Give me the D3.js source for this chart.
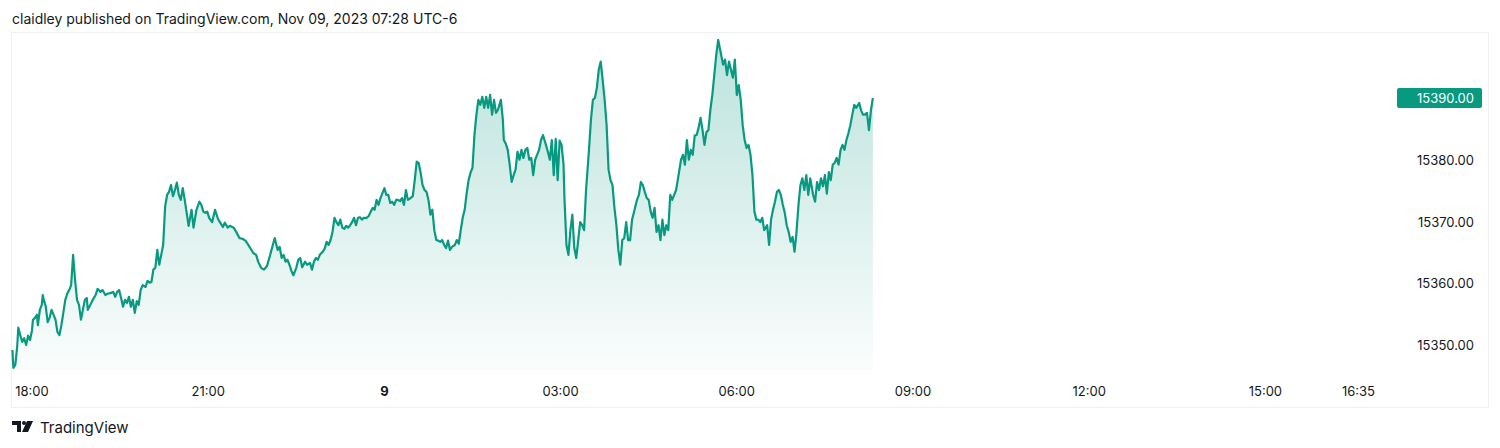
<!DOCTYPE html>
<html><head><meta charset="utf-8">
<script src="https://cdn.jsdelivr.net/npm/d3@7/dist/d3.min.js"></script>
<style>body{margin:0;background:#fff}svg{display:block}</style>
</head><body>
<svg id="c" width="1500" height="448"></svg>
<script>
// minutes from 18:00 (Nov 8) and prices
const minutes = [-20,-19,-17,-15,-14,-12,-10,-8,-6,-4,-2,0,1,3,5,6,8,10,11,12,14,16,18,20,24,26,28,30,32,34,36,38,40,42,44,46,48,50,52,54,56,57,59,62,65,67,70,72,75,77,80,83,85,87,89,91,93,95,97,99,101,103,105,107,109,111,113,116,118,120,122,124,126,128,130,132,134,136,138,140,142,144,146,148,150,152,154,156,160,163,165,168,171,173,175,177,179,181,184,187,190,192,195,197,200,202,206,209,212,215,218,221,223,226,229,231,234,237,240,243,246,248,251,253,255,257,259,261,263,265,267,270,272,274,
276,279,281,284,286,288,290,292,294,297,299,301,303,305,307,309,311,313,315,317,319,321,323,325,327,329,331,333,335,337,339,342,344,346,348,350,352,354,356,358,360,362,364,366,368,370,372,374,376,378,380,382,384,386,389,391,393,395,397,399,401,403,405,407,409,411,413,415,417,419,421,423,425,427,429,432,434,436,438,440,442,444,446,448,450,452,454,456,458,460,462,464,466,468,470,472,474,476,479,481,482,484,486,488,490,492,494,496,498,500,502,504,506,508,510,512,514,516,518,520,522,525,527,529,531,533,535,537,539,541,543,544,546,548,550,552,554,556,558,560,562,564,566,569,571,573,575,577,579,581,583,585,587,589,591,593,595,597,599,601,603,605,607,609,611,613,616,618,620,622,624,626,628,630,632,634,636,638,640,642,644,646,648,650,652,654,656,658,661,663,665,667,669,671,673,675,677,679,681,683,685,687,689,691,693,695,697,699,701,703,706,708,710,712,714,716,718,720,722,724,726,728,730,732,734,736,738,740,742,744,746,748,751,753,755,757,759,761,763,765,767,769,771,773,775,777,779,781,783,785,787,789,791,793,795,798,800,802,804,806,808,810,812,814,816,818,820,822,824,826,828,830,832,834,836,838,840,842,845,847,849,851,853,855,857,859];
const prices = [15349.2,15346.3,15346.8,15350.0,15352.8,15351.6,15350.5,15351.1,15350.0,15351.5,15350.8,15352.4,15354.1,15354.4,15354.9,15353.2,15355.7,15356.5,15358.1,15357.3,15356.3,15353.7,15354.4,15355.7,15354.1,15352.1,15351.6,15353.2,15355.2,15357.3,15358.3,15358.9,15359.7,15364.6,15360.5,15357.3,15356.5,15354.1,15355.7,15357.3,15357.6,15355.7,15356.3,15357.3,15358.1,15359.1,15358.6,15358.9,15358.1,15358.3,15358.4,15358.6,15357.8,15358.6,15358.9,15357.6,15356.2,15357.3,15356.8,15357.8,15356.2,15357.3,15355.2,15357.1,15356.5,15358.9,15359.7,15359.4,15360.4,15360.1,15360.2,15362.2,15362.5,15365.4,15363.0,15364.6,15366.2,15372.4,15374.3,15374.8,15375.9,15374.1,15375.1,15376.3,15374.3,15373.5,15375.4,15373.5,15369.3,15371.9,15369.0,15371.9,15373.2,15372.7,15371.6,15371.4,15371.6,15370.6,15369.9,15371.9,15370.4,15369.9,15369.1,15369.8,15369.0,15369.3,15369.0,15368.2,15367.3,15367.2,15366.9,15366.2,15365.7,15364.9,15364.6,15363.5,15362.5,15362.2,15362.8,15364.4,15366.2,15367.3,15365.4,15365.9,15364.1,15364.6,15363.5,15363.8,15363.0,15362.0,15361.3,15362.5,15363.8,15364.1,
15362.6,15363.5,15363.0,15363.3,15362.2,15363.5,15364.1,15363.8,15364.6,15365.1,15365.6,15366.7,15366.2,15367.0,15368.3,15370.6,15369.9,15369.4,15370.3,15369.0,15368.8,15369.3,15369.0,15369.4,15369.9,15370.6,15369.4,15370.6,15370.7,15370.3,15370.6,15370.6,15370.9,15371.6,15372.2,15371.9,15373.5,15372.7,15373.8,15374.6,15375.4,15374.3,15374.3,15373.0,15373.2,15372.7,15373.5,15373.5,15373.3,15373.8,15372.7,15375.1,15373.5,15373.7,15374.1,15376.7,15379.7,15379.5,15377.9,15375.9,15375.1,15374.8,15373.5,15371.1,15371.9,15368.6,15367.0,15366.9,15366.7,15367.0,15366.2,15365.7,15366.9,15365.4,15365.9,15366.2,15367.0,15366.4,15368.6,15370.6,15371.9,15374.5,15376.7,15377.9,15378.7,15384.0,15387.3,15389.7,15388.9,15390.2,15388.4,15390.2,15388.4,15390.5,15387.3,15389.7,15387.6,15388.1,15389.7,15386.5,15383.2,15382.6,15381.6,15379.2,15376.4,15377.5,15378.4,15381.3,15380.0,15381.6,15380.3,15381.6,15381.9,15380.0,15380.3,15377.5,15380.0,15380.8,15381.6,15383.2,15384.0,15382.4,15381.3,15380.0,15383.2,15377.5,15383.4,15376.7,15383.1,15382.4,15379.2,15373.5,15366.2,15364.6,15368.6,15371.1,15365.7,15364.1,15367.0,15369.9,15369.4,15368.6,15375.1,15381.6,15386.5,15389.7,15390.0,15391.6,15394.6,15395.9,15392.9,15389.7,15385.6,15378.4,15376.7,15375.9,15372.2,15369.4,15365.4,15363.0,15367.0,15367.3,15369.9,15367.0,15367.0,15370.3,15372.2,15373.5,15374.3,15376.4,15375.9,15374.8,15373.8,15373.5,15371.6,15370.6,15372.2,15368.3,15369.4,15367.0,15370.3,15367.8,15369.4,15368.6,15374.3,15373.5,15374.3,15375.1,15378.0,15380.0,15380.8,15379.2,15383.2,15380.0,15381.6,15380.8,15383.9,15384.0,15385.2,15386.8,15384.8,15382.4,15384.5,15384.8,15388.1,15390.5,15393.7,15397.0,15399.4,15397.8,15395.4,15396.2,15393.7,15395.9,15394.6,15393.3,15396.2,15390.5,15392.1,15389.7,15385.6,15383.2,15381.9,15382.4,15380.8,15377.5,15371.6,15370.3,15370.3,15369.9,15370.6,15368.6,15369.4,15366.2,15370.3,15371.9,15373.2,15374.8,15375.1,15374.3,15372.7,15371.4,15369.4,15368.3,15366.7,15367.5,15365.1,15368.3,15372.7,15375.9,15377.0,15375.1,15377.5,15374.3,15377.0,15374.3,15373.2,15376.4,15375.1,15377.0,15375.7,15377.5,15374.5,15378.0,15376.7,15379.2,15379.5,15380.3,15379.2,15381.6,15382.4,15381.6,15383.2,15384.3,15385.6,15387.3,15388.9,15388.4,15389.2,15388.0,15387.3,15387.3,15387.6,15384.8,15388.0,15390.0];
const priceTicks = [15350,15360,15370,15380];
const timeTicks = [["18:00",0,false],["21:00",180,false],["9",360,true],["03:00",540,false],["06:00",720,false],["09:00",900,false],["12:00",1080,false],["15:00",1260,false],["16:35",1355,false]];
const lastPrice = 15390.00;
const header = "claidley published on TradingView.com, Nov 09, 2023 07:28 UTC-6";

const svg = d3.select("#c");
const font = "-apple-system, 'Inter', 'Noto Sans', sans-serif";
const base = new Date(2023,10,8,18,0);
const toDate = m => new Date(base.getTime()+m*60000);
const x = d3.scaleTime().domain([toDate(0), toDate(900)]).range([32, 913]);
const y = d3.scaleLinear().domain([15350,15390]).range([345,98]);
const data = minutes.map((m,i)=>({t:toDate(m), p:prices[i]}));
const bottom = 370;

const defs = svg.append("defs");
const g = defs.append("linearGradient").attr("id","fill").attr("x1",0).attr("x2",0).attr("y1",0).attr("y2",1)
  .attr("gradientUnits","userSpaceOnUse").attr("y1",35).attr("y2",bottom);
g.append("stop").attr("offset",0).attr("stop-color","#089981").attr("stop-opacity",0.28);
g.append("stop").attr("offset",1).attr("stop-color","#089981").attr("stop-opacity",0.02);

svg.append("text").attr("x",12).attr("y",24).attr("font-family",font).attr("font-size",14).attr("fill","#131722").text(header);
svg.append("rect").attr("x",11.5).attr("y",32.5).attr("width",1477).attr("height",375).attr("fill","none").attr("stroke","#eef1f4");

svg.append("path").datum(data).attr("fill","url(#fill)")
  .attr("d",d3.area().x(d=>x(d.t)).y0(bottom).y1(d=>y(d.p)));
svg.append("path").datum(data).attr("fill","none").attr("stroke","#089981").attr("stroke-width",2.2).attr("stroke-linejoin","round")
  .attr("d",d3.line().x(d=>x(d.t)).y(d=>y(d.p)));

svg.selectAll(".pt").data(priceTicks).enter().append("text").attr("x",1474).attr("y",d=>y(d)+5).attr("text-anchor","end")
  .attr("font-family",font).attr("font-size",13).attr("fill","#131722").text(d=>d3.format(".2f")(d));
svg.append("rect").attr("x",1397).attr("y",y(lastPrice)-10).attr("width",85).attr("height",20).attr("rx",2).attr("fill","#089981");
svg.append("text").attr("x",1474).attr("y",y(lastPrice)+5).attr("text-anchor","end").attr("font-family",font).attr("font-size",13).attr("fill","#fff").text(d3.format(".2f")(lastPrice));

svg.selectAll(".tt").data(timeTicks).enter().append("text").attr("x",d=>x(toDate(d[1]))).attr("y",396).attr("text-anchor","middle")
  .attr("font-family",font).attr("font-size",13).attr("fill","#131722").attr("font-weight",d=>d[2]?700:400).text(d=>d[0]);

// logo
const lg = svg.append("g").attr("transform","translate(12,421)").attr("fill","#131722");
lg.append("path").attr("d","M0 0 H9 V11 H5 V4 H0 Z");
lg.append("circle").attr("cx",12).attr("cy",2).attr("r",2);
lg.append("path").attr("d","M15 0 H21 L16 11 H10 Z");
svg.append("text").attr("x",40).attr("y",433).attr("font-family",font).attr("font-size",15).attr("fill","#131722").text("TradingView");
</script>
</body></html>
